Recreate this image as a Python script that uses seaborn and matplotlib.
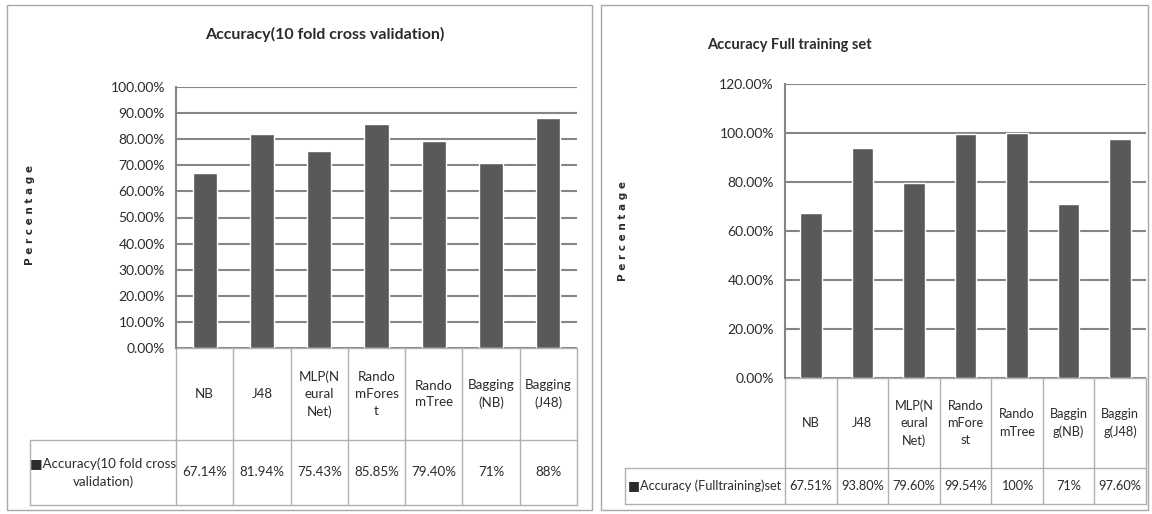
import matplotlib
matplotlib.use("Agg")
import matplotlib.pyplot as plt
import seaborn as sns
from matplotlib.patches import Rectangle
from matplotlib.ticker import FuncFormatter, MultipleLocator

# data
cv_categories = ["NB", "J48", "MLP(Neural Net)", "RandomForest", "RandomTree", "Bagging(NB)", "Bagging(J48)"]
cv_header = ["NB", "J48", "MLP(N\neural\nNet)", "Rando\nmFores\nt", "Rando\nmTree", "Bagging\n(NB)", "Bagging\n(J48)"]
cv_values = [67.14, 81.94, 75.43, 85.85, 79.40, 71, 88]
cv_labels = ["67.14%", "81.94%", "75.43%", "85.85%", "79.40%", "71%", "88%"]

full_categories = cv_categories
full_header = ["NB", "J48", "MLP(N\neural\nNet)", "Rando\nmFore\nst", "Rando\nmTree", "Baggin\ng(NB)", "Baggin\ng(J48)"]
full_values = [67.51, 93.80, 79.60, 99.54, 100, 71, 97.60]
full_labels = ["67.51%", "93.80%", "79.60%", "99.54%", "100%", "71%", "97.60%"]

sns.set_style("white")
plt.rcParams['font.family'] = ['Lato', 'DejaVu Sans']

BAR = '#58595b'
GRID = '#858585'
EDGE = '#b0b0b0'
TXT = '#2b2b2b'

W, H = 1152, 514
fig = plt.figure(figsize=(W / 100, H / 100), dpi=100)


def px_axes(x0, x1, ytop, ybot):
    return fig.add_axes([x0 / W, 1 - ybot / H, (x1 - x0) / W, (ybot - ytop) / H])


# panel borders
for x0, x1 in [(7, 592), (601, 1148)]:
    fig.patches.append(Rectangle((x0 / W, 1 - 510 / H), (x1 - x0) / W, 505 / H,
                                 transform=fig.transFigure, fill=False,
                                 edgecolor='#a8a8a8', lw=1.0))


def draw_panel(ax, cats, vals, header, labels, ymax, ystep, row_label,
               lab_cols, y_head, y_bot, ylab_xy, fs):
    sns.barplot(x=cats, y=vals, ax=ax, color=BAR, width=0.42, saturation=1)
    n = len(cats)
    ax.set_xlim(-0.5, n - 0.5)
    ax.set_ylim(0, ymax)
    ax.yaxis.set_major_locator(MultipleLocator(ystep))
    ax.yaxis.set_major_formatter(FuncFormatter(lambda v, p: f"{v:.2f}%"))
    ax.yaxis.grid(True, color=GRID, lw=1.5)
    ax.set_axisbelow(True)
    ax.set_xticks([])
    ax.set_xlabel("")
    for s in ['top', 'right', 'bottom']:
        ax.spines[s].set_visible(False)
    ax.spines['left'].set_color(GRID)
    ax.spines['left'].set_linewidth(1.5)
    ax.tick_params(axis='y', length=0, pad=8, labelsize=10, labelcolor=TXT)
    ax.set_ylabel("P e r c e n t a g e", fontsize=7.5, fontweight='bold',
                  color=TXT, family='DejaVu Sans')
    ax.yaxis.set_label_coords(*ylab_xy)

    # data table under the plot (x in data units, y in axes units)
    tr = ax.get_xaxis_transform()
    xl = -0.5 - lab_cols
    kw = dict(transform=tr, clip_on=False, color=EDGE, lw=1.0)
    ax.plot([-0.5, n - 0.5], [0, 0], **kw)
    ax.plot([xl, n - 0.5], [y_head, y_head], **kw)
    ax.plot([xl, n - 0.5], [y_bot, y_bot], **kw)
    ax.plot([xl, xl], [y_head, y_bot], **kw)
    for k in range(n + 1):
        ax.plot([k - 0.5, k - 0.5], [0, y_bot], **kw)
    for j in range(n):
        ax.text(j, y_head / 2, header[j], transform=tr, ha='center', va='center',
                fontsize=fs, color=TXT, linespacing=1.5)
        ax.text(j, (y_head + y_bot) / 2, labels[j], transform=tr, ha='center',
                va='center', fontsize=fs, color=TXT)
    ax.text((xl - 0.5) / 2, (y_head + y_bot) / 2, row_label, transform=tr,
            ha='center', va='center', fontsize=fs, color=TXT, linespacing=1.5)


# left panel: 10 fold cross validation
ax1 = px_axes(176, 577, 87, 348)
draw_panel(ax1, cv_categories, cv_values, cv_header, cv_labels, 100, 10,
           "\u25a0Accuracy(10 fold cross\nvalidation)",
           146 / 57.3, -92 / 261, -157 / 261, (-141 / 401, 0.51), 9.6)
fig.text(325 / W, 1 - 34 / H, "Accuracy(10 fold cross validation)", ha='center', va='center',
         fontsize=11.5, fontweight='bold', color=TXT)

# right panel: full training set
ax2 = px_axes(785, 1146, 84, 378)
draw_panel(ax2, full_categories, full_values, full_header, full_labels, 120, 20,
           "\u25a0Accuracy (Fulltraining)set",
           160 / 51.6, -90 / 294, -126 / 294, (-157 / 361, 0.5), 9.2)
fig.text(707 / W, 1 - 45 / H, "Accuracy Full training set", ha='left', va='center',
         fontsize=10.5, fontweight='bold', color=TXT)

fig.savefig("out.png", dpi=100)
